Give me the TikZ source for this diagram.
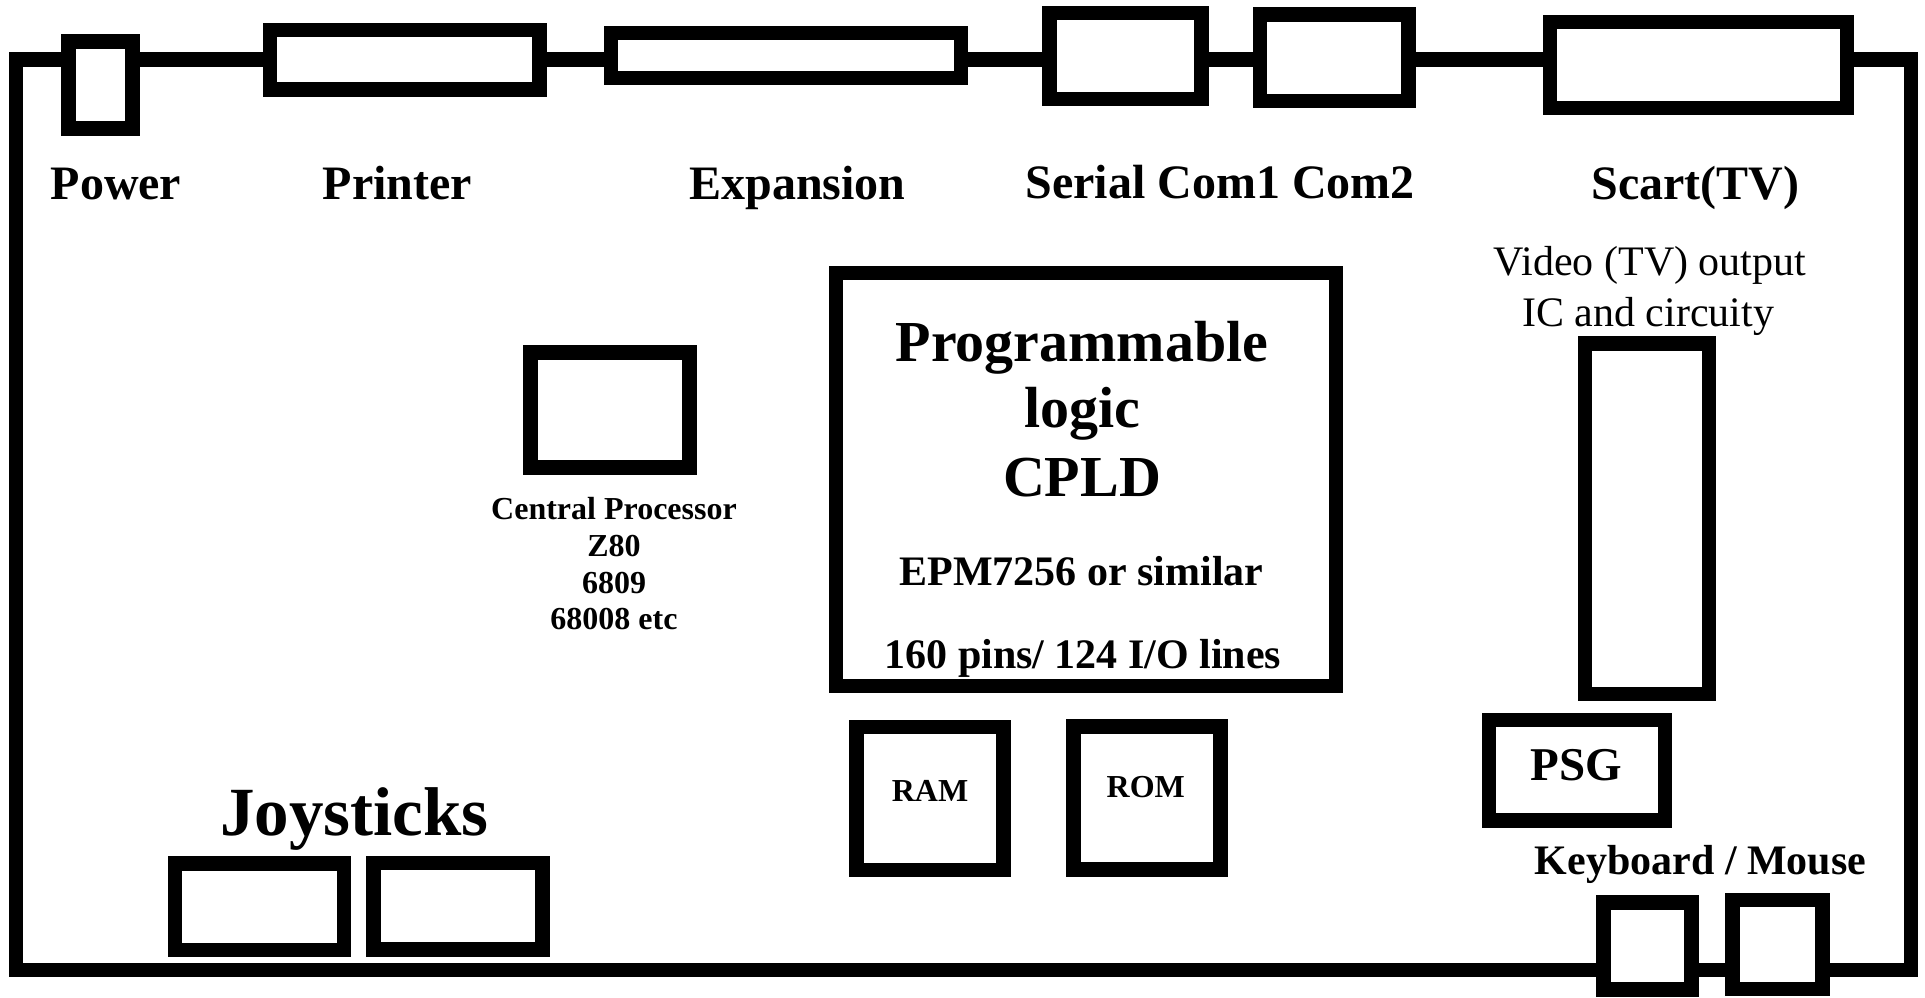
\documentclass[tikz,border=0pt]{standalone}
\usepackage{fontspec}
\setmainfont{Liberation Serif}
\begin{document}
\begin{tikzpicture}[x=1pt,y=-1pt,
  board/.style={draw, line width=14.5pt},
  part/.style={draw, line width=14.5pt, fill=white, inner sep=0pt, outer sep=0pt},
  txt/.style={anchor=base, inner sep=0pt, outer sep=0pt},
  toplab/.style={txt, font=\bfseries\fontsize{48}{58}\selectfont},
  big/.style={txt, font=\bfseries\fontsize{58}{70}\selectfont},
  mid/.style={txt, font=\bfseries\fontsize{42}{50}\selectfont},
  midreg/.style={txt, font=\fontsize{42}{50}\selectfont},
  small/.style={txt, font=\bfseries\fontsize{32}{38}\selectfont},
  huge/.style={txt, font=\bfseries\fontsize{69}{80}\selectfont}]
\path[use as bounding box, fill=white] (0,0) rectangle (1925,997);

% board outline
\coordinate (tl) at (16,59.5);
\coordinate (tr) at (1911,59.5);
\coordinate (br) at (1911,970);
\coordinate (bl) at (16,970);
\draw[board] (tl) -- (tr) -- (br) -- (bl) -- cycle;

% connectors on the edge
\node[part, minimum width=64pt, minimum height=87pt] (power) at (100.5,85) {};
\node[part, minimum width=269.5pt, minimum height=59.5pt] (printer) at (404.5,59.8) {};
\node[part, minimum width=350pt, minimum height=45pt] (expansion) at (786,55.5) {};
\node[part, minimum width=152pt, minimum height=86pt] (com1) at (1125.7,55.8) {};
\node[part, minimum width=148.6pt, minimum height=86.3pt] (com2) at (1334.3,57.7) {};
\node[part, minimum width=297pt, minimum height=86pt] (scart) at (1698.5,64.8) {};
\node[part, minimum width=169pt, minimum height=86.3pt] (joy1) at (259.7,906.7) {};
\node[part, minimum width=169pt, minimum height=86.5pt] (joy2) at (457.9,906) {};
\node[part, minimum width=88pt, minimum height=86.7pt] (kb1) at (1647.5,945.9) {};
\node[part, minimum width=89.8pt, minimum height=89pt] (kb2) at (1777.6,944.7) {};

% chips
\node[part, minimum width=159pt, minimum height=115pt] (cpu) at (609.8,410) {};
\node[part, minimum width=500.2pt, minimum height=413pt] (cpld) at (1086.1,479.3) {};
\node[part, minimum width=124pt, minimum height=350.5pt] (video) at (1647,518.8) {};
\node[part, minimum width=176pt, minimum height=100.7pt] (psg) at (1577,770.3) {};
\node[part, minimum width=146.7pt, minimum height=143pt] (ram) at (929.9,798.3) {};
\node[part, minimum width=147pt, minimum height=142.7pt] (rom) at (1147,797.9) {};

% labels
\node[toplab] (tpower) at (116,199) {Power};
\node[toplab] (tprinter) at (397.3,199) {Printer};
\node[toplab] (texp) at (797.4,199) {Expansion};
\node[toplab] (tserial) at (1220,198.5) {Serial Com1 Com2};
\node[toplab] (tscart) at (1695.5,199) {Scart(TV)};

\node[midreg] (tvid1) at (1650,275) {Video (TV) output};
\node[midreg] (tvid2) at (1648,326) {IC and circuity};

\node[big] (tcpld1) at (1082,361) {Programmable};
\node[big] (tcpld2) at (1082,427) {logic};
\node[big] (tcpld3) at (1082,496) {CPLD};
\node[mid] (tcpld4) at (1081.4,585) {EPM7256 or similar};
\node[mid] (tcpld5) at (1082.9,668) {160 pins/ 124 I/O lines};

\node[small] (tcpu1) at (614,519.5) {Central Processor};
\node[small] (tcpu2) at (614,556.5) {Z80};
\node[small] (tcpu3) at (614,593.5) {6809};
\node[small] (tcpu4) at (614,629) {68008 etc};

\node[huge] (tjoy) at (354.4,835) {Joysticks};
\node[small] (tram) at (930,801.7) {RAM};
\node[small] (trom) at (1145.8,797.3) {ROM};
\node[txt, font=\bfseries\fontsize{47}{56}\selectfont] (tpsg) at (1576.5,780.7) {PSG};
\node[mid] (tkb) at (1700.5,874) {Keyboard / Mouse};
\end{tikzpicture}
\end{document}
